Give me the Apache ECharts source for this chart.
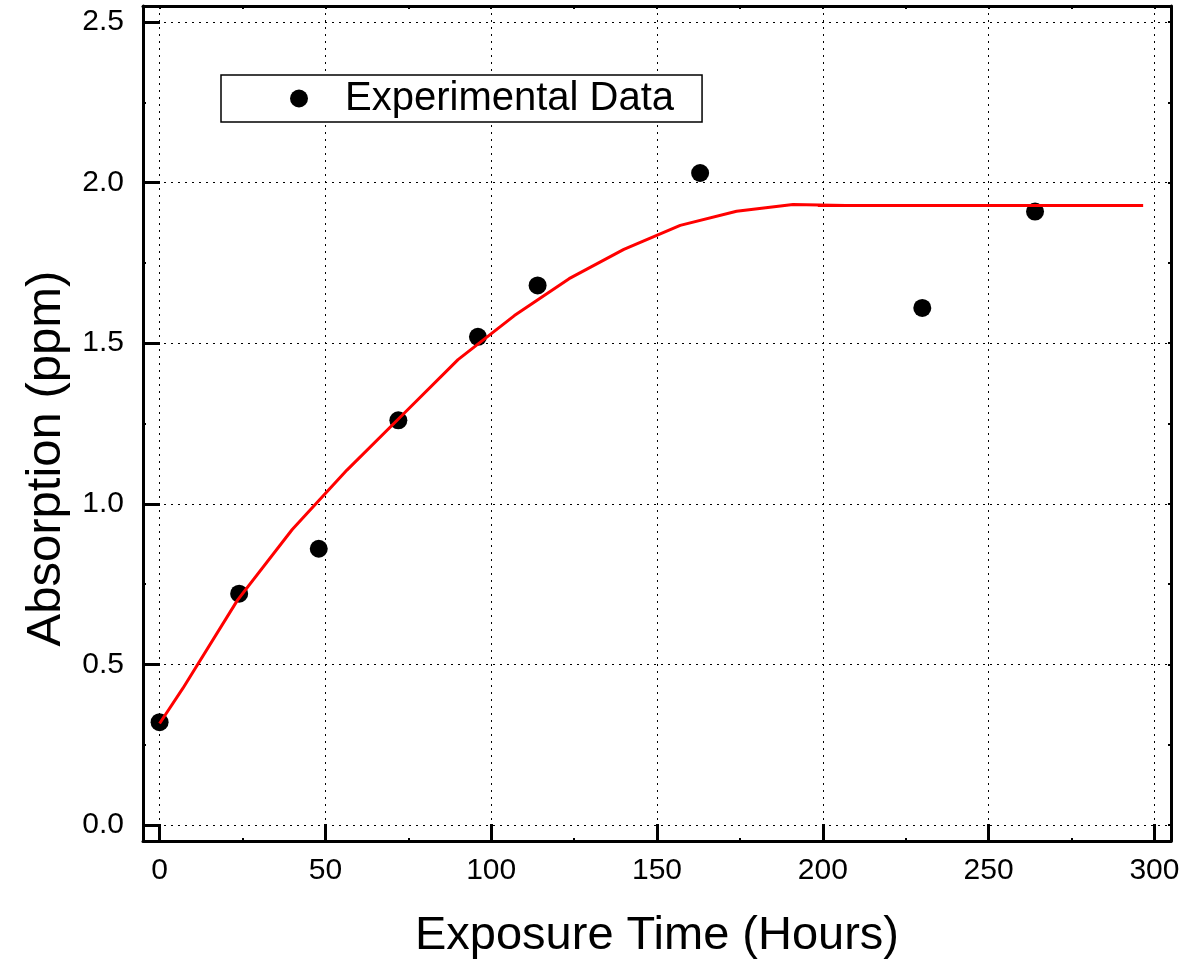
<!DOCTYPE html>
<html>
<head>
<meta charset="utf-8">
<script src="https://cdn.jsdelivr.net/npm/echarts@6/dist/echarts.min.js"></script>
<style>
  html, body { margin: 0; padding: 0; background: #fff; }
  #chart { width: 1183px; height: 965px; }
</style>
</head>
<body>
<div id="chart"></div>
<script>
// measured points
var hours = [0, 24, 48, 72, 96, 114, 163, 230, 264];
var absorption = [0.32, 0.72, 0.86, 1.26, 1.52, 1.68, 2.03, 1.61, 1.91];

// fitted curve
var fitHours = [0, 7, 23.5, 40, 56.5, 73, 90, 107, 123.5, 140, 157, 174, 191, 207];
var fitAbsorption = [0.316, 0.425, 0.70, 0.92, 1.105, 1.274, 1.449, 1.586, 1.701, 1.792, 1.867, 1.911, 1.932, 1.929];

// plateau
var plateauHours = [198.5, 296.6];
var plateauAbsorption = [1.929, 1.929];

var FONT = 'Liberation Sans, Arial, sans-serif';

function pairs(xs, ys) {
  return xs.map(function (x, i) { return [x, ys[i]]; });
}

var chart = echarts.init(document.getElementById('chart'));

var gridDots = { show: true, lineStyle: { color: '#000', width: 1, type: [2, 5] } };
var frameLine = { show: true, onZero: false, lineStyle: { color: '#000', width: 3 } };

var option = {
  animation: false,
  backgroundColor: '#fff',
  grid: { left: 143, right: 12, top: 6, bottom: 123 },
  legend: {
    left: 221,
    top: 75,
    data: ['Experimental Data'],
    icon: 'circle',
    itemWidth: 82,
    itemHeight: 18,
    padding: [3.5, 28, 3.5, 69],
    borderColor: '#000',
    borderWidth: 1.5,
    backgroundColor: '#fff',
    textStyle: { fontFamily: FONT, fontSize: 40, color: '#000', lineHeight: 40 }
  },
  xAxis: [{
    type: 'value',
    position: 'bottom',
    min: -5,
    max: 305,
    splitNumber: 6,
    name: 'Exposure Time (Hours)',
    nameLocation: 'middle',
    nameGap: 72,
    nameTextStyle: { fontFamily: FONT, fontSize: 47, color: '#000' },
    axisLine: frameLine,
    axisTick: { show: true, inside: true, length: 17, lineStyle: { color: '#000', width: 3 } },
    minorTick: { show: true, splitNumber: 2, length: 3, lineStyle: { color: '#000', width: 2 } },
    axisLabel: {
      show: true, margin: 15, showMinLabel: false, showMaxLabel: false,
      fontFamily: FONT, fontSize: 30, color: '#000',
      formatter: function (v) { return v % 50 === 0 ? String(v) : ''; }
    },
    splitLine: gridDots
  }, {
    type: 'value',
    position: 'top',
    min: -5,
    max: 305,
    splitNumber: 6,
    axisLine: frameLine,
    axisTick: { show: true, inside: true, length: 3, lineStyle: { color: '#000', width: 2 } },
    minorTick: { show: true, splitNumber: 2, length: 3, lineStyle: { color: '#000', width: 2 } },
    axisLabel: { show: false },
    splitLine: { show: false }
  }],
  yAxis: [{
    type: 'value',
    position: 'left',
    min: -0.05,
    max: 2.55,
    splitNumber: 5,
    name: 'Absorption (ppm)',
    nameLocation: 'middle',
    nameGap: 70,
    nameTextStyle: { fontFamily: FONT, fontSize: 49, color: '#000', padding: [0, 70, 0, 0] },
    axisLine: frameLine,
    axisTick: { show: true, inside: true, length: 17, lineStyle: { color: '#000', width: 3 } },
    minorTick: { show: true, splitNumber: 2, length: 3, lineStyle: { color: '#000', width: 2 } },
    axisLabel: {
      show: true, margin: 19, showMinLabel: false, showMaxLabel: false,
      fontFamily: FONT, fontSize: 30, color: '#000',
      formatter: function (v) {
        var r = Math.round(v * 10) / 10;
        return Math.abs(r * 2 - Math.round(r * 2)) < 1e-6 && Math.abs(v - r) < 1e-6 ? r.toFixed(1) : '';
      }
    },
    splitLine: gridDots
  }, {
    type: 'value',
    position: 'right',
    min: -0.05,
    max: 2.55,
    splitNumber: 5,
    axisLine: frameLine,
    axisTick: { show: true, inside: true, length: 3, lineStyle: { color: '#000', width: 2 } },
    minorTick: { show: true, splitNumber: 2, length: 3, lineStyle: { color: '#000', width: 2 } },
    axisLabel: { show: false },
    splitLine: { show: false }
  }],
  series: [{
    name: 'Experimental Data',
    type: 'scatter',
    xAxisIndex: 0,
    yAxisIndex: 0,
    symbol: 'circle',
    symbolSize: 18,
    itemStyle: { color: '#000', opacity: 1 },
    z: 2,
    data: pairs(hours, absorption)
  }, {
    name: 'Fit',
    type: 'line',
    xAxisIndex: 0,
    yAxisIndex: 0,
    showSymbol: false,
    symbol: 'none',
    lineStyle: { color: '#ff0000', width: 3 },
    z: 3,
    data: pairs(fitHours, fitAbsorption)
  }, {
    name: 'Plateau',
    type: 'line',
    xAxisIndex: 0,
    yAxisIndex: 0,
    showSymbol: false,
    symbol: 'none',
    lineStyle: { color: '#ff0000', width: 3 },
    z: 3,
    data: pairs(plateauHours, plateauAbsorption)
  }]
};

chart.setOption(option);
</script>
</body>
</html>
